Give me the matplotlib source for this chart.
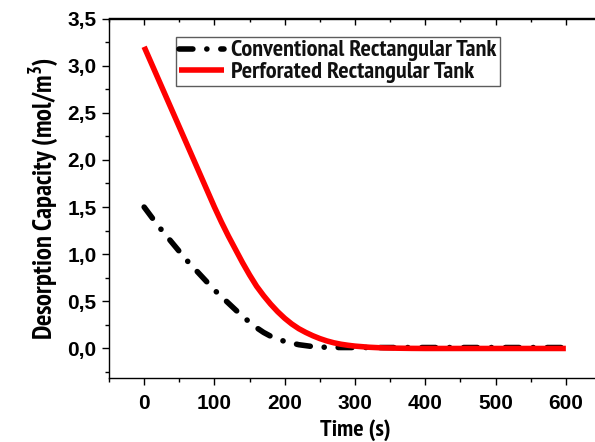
import matplotlib
matplotlib.use('Agg')
import matplotlib.pyplot as plt
from matplotlib import font_manager
from matplotlib.ticker import MultipleLocator, FuncFormatter

plt.rcParams['font.family'] = ['Liberation Sans', 'DejaVu Sans']
plt.rcParams['font.weight'] = 'bold'
plt.rcParams['lines.scale_dashes'] = False

# pick a narrow bold face for the labels, falling back to the regular one
candidates = ['Liberation Sans Narrow', 'Arial Narrow', 'PT Sans Narrow',
              'Fira Sans Condensed', 'IBM Plex Sans Condensed', 'Roboto Condensed',
              'Barlow Semi Condensed', 'Asap Condensed', 'Encode Sans Condensed']
boldFaces = {f.name for f in font_manager.fontManager.ttflist if f.weight in (700, 'bold')}
narrowFont = next((c for c in candidates if c in boldFaces), 'Liberation Sans')
narrow = [narrowFont, 'Liberation Sans']
plt.rcParams['mathtext.fontset'] = 'custom'
plt.rcParams['mathtext.bf'] = narrowFont + ':bold'

# desorption capacity vs time
convTime = [0, 10, 20, 30, 40, 50, 60, 70, 80, 90, 100, 110, 120, 130, 140, 150,
            160, 170, 180, 190, 200, 220, 240, 260, 280, 300, 350, 400, 450, 500,
            550, 600]
convCap = [1.50, 1.40, 1.30, 1.21, 1.12, 1.03, 0.94, 0.86, 0.78, 0.70, 0.62, 0.55,
           0.48, 0.41, 0.34, 0.28, 0.22, 0.17, 0.13, 0.10, 0.075, 0.04, 0.02, 0.012,
           0.01, 0.01, 0.01, 0.01, 0.01, 0.01, 0.01, 0.01]

perfTime = [0, 10, 20, 30, 40, 50, 60, 70, 80, 90, 100, 110, 120, 130, 140, 150,
            160, 170, 180, 190, 200, 210, 220, 230, 240, 250, 260, 270, 280, 290,
            300, 320, 340, 360, 380, 400, 450, 500, 550, 600]
perfCap = [3.20, 3.03, 2.86, 2.69, 2.52, 2.35, 2.18, 2.01, 1.84, 1.67, 1.50, 1.34,
           1.19, 1.05, 0.91, 0.78, 0.66, 0.56, 0.47, 0.39, 0.32, 0.26, 0.21, 0.17,
           0.135, 0.105, 0.08, 0.06, 0.045, 0.034, 0.025, 0.013, 0.006, 0.003,
           0.001, 0.0, 0.0, 0.0, 0.0, 0.0]

labels = ['Conventional Rectangular Tank', 'Perforated Rectangular Tank']

fig = plt.figure(figsize=(5.95, 4.42), dpi=100)
ax = fig.add_axes([109/595, 1 - 377.7/442, 492/595, (377.7 - 18.5)/442])

ax.plot(convTime, convCap, color='black', lw=4.0, dash_capstyle='round',
        linestyle=(0, (10, 10, 0.1, 10)), label=labels[0])
ax.plot(perfTime, perfCap, color='#ff0000', lw=4.0, solid_capstyle='butt',
        label=labels[1])

ax.set_xlim(-50, 650)
ax.set_ylim(-0.31, 3.5)
ax.xaxis.set_major_locator(MultipleLocator(100))
ax.xaxis.set_minor_locator(MultipleLocator(50))
ax.yaxis.set_major_locator(MultipleLocator(0.5))
ax.yaxis.set_minor_locator(MultipleLocator(0.25))
ax.yaxis.set_major_formatter(FuncFormatter(lambda v, p: ('%.1f' % v).replace('.', ',')))

ax.spines['right'].set_visible(False)
for s in ax.spines.values():
    s.set_linewidth(1.0)

ax.tick_params(axis='both', which='major', direction='out', length=5, width=1,
               labelsize=15, top=False, right=False)
ax.tick_params(axis='both', which='minor', direction='out', length=3, width=1,
               top=False, right=False)
ax.tick_params(axis='x', which='both', pad=7)
ax.tick_params(axis='y', which='both', pad=4)

# inward ticks on the top spine
top = ax.secondary_xaxis('top')
top.xaxis.set_major_locator(MultipleLocator(100))
top.xaxis.set_minor_locator(MultipleLocator(50))
top.tick_params(which='major', direction='in', length=5, width=1, labeltop=False)
top.tick_params(which='minor', direction='in', length=3, width=1)
top.spines['top'].set_linewidth(1.0)

xl = ax.set_xlabel('Time (s)', fontsize=16, fontweight='bold', family=narrow,
                   labelpad=4)
yl = ax.set_ylabel('Desorption Capacity (mol/m$^\\mathbf{3}$)', fontsize=17.5,
                   fontweight='bold', family=narrow, labelpad=4)

leg = ax.legend(loc='upper left', bbox_to_anchor=(0.136, 0.9485), borderaxespad=0,
                fancybox=False, frameon=True, edgecolor='#333333',
                prop={'family': narrow, 'weight': 'bold', 'size': 15.5},
                handlelength=2.1, handletextpad=0.3, labelspacing=0.02,
                borderpad=0.15)
leg.get_frame().set_linewidth(1.0)
for t in leg.get_texts():
    t.set_color('#111111')

# size the label texts to their intended pixel lengths
fig.canvas.draw()
r = fig.canvas.get_renderer()
xw = xl.get_window_extent(r).width
xl.set_fontsize(xl.get_fontsize() * 71 / xw)
yh = yl.get_window_extent(r).height
yl.set_fontsize(yl.get_fontsize() * 283 / yh)
lw = leg.get_texts()[0].get_window_extent(r).width
legSize = leg.get_texts()[0].get_fontsize() * 265 / lw
for t in leg.get_texts():
    t.set_fontsize(legSize)

fig.savefig('out.png', dpi=100)
